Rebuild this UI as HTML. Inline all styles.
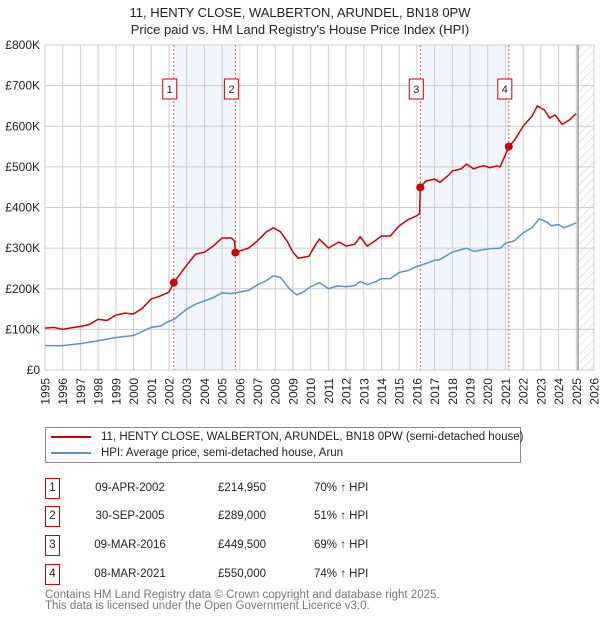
<!DOCTYPE html>
<html><head><meta charset="utf-8"><style>
body{margin:0;background:#fff;font-family:"Liberation Sans","DejaVu Sans",sans-serif;}
#wrap{position:relative;width:600px;height:620px;overflow:hidden}
</style></head><body><div id="wrap">
<svg id="chart" width="600" height="620" xmlns="http://www.w3.org/2000/svg" font-family="Liberation Sans, DejaVu Sans, sans-serif">
<defs><pattern id="hatch" width="6" height="6" patternUnits="userSpaceOnUse" patternTransform="rotate(45)"><line x1="0" y1="0" x2="0" y2="6" stroke="#ccc" stroke-width="1"/></pattern></defs>
<text x="300" y="17" text-anchor="middle" font-size="13" fill="#222">11, HENTY CLOSE, WALBERTON, ARUNDEL, BN18 0PW</text>
<text x="300" y="34" text-anchor="middle" font-size="13" fill="#222">Price paid vs. HM Land Registry's House Price Index (HPI)</text>
<g id="plot"></g>
</svg>
<div style="position:absolute;left:45px;top:427px;width:474px;height:34px;border:1px solid #888;font-size:11.5px;color:#222">
<div style="position:absolute;left:5px;top:3px;white-space:nowrap"><span style="display:inline-block;width:40px;height:2px;background:#cc0000;vertical-align:middle;margin-right:10px"></span>11, HENTY CLOSE, WALBERTON, ARUNDEL, BN18 0PW (semi-detached house)</div>
<div style="position:absolute;left:5px;top:19px;white-space:nowrap"><span style="display:inline-block;width:40px;height:2px;background:#5b8fd4;vertical-align:middle;margin-right:10px"></span>HPI: Average price, semi-detached house, Arun</div>
</div>
<div id="table"></div>
<div style="position:absolute;left:45px;top:590px;font-size:11.5px;color:#777;line-height:11px">Contains HM Land Registry data © Crown copyright and database right 2025.<br>This data is licensed under the Open Government Licence v3.0.</div>
</div>
<script>
const redYears=[1995,1995.5,1996,1996.5,1997,1997.5,1998,1998.5,1999,1999.5,2000,2000.5,2001,2001.5,2002,2002.27,2003,2003.5,2004,2004.5,2005,2005.5,2005.7,2005.75,2006,2006.5,2007,2007.5,2007.9,2008.3,2008.7,2009,2009.3,2009.9,2010.3,2010.5,2011,2011.6,2012,2012.5,2012.8,2013.2,2013.7,2014,2014.5,2015,2015.5,2016,2016.15,2016.19,2016.5,2017,2017.3,2017.8,2018,2018.5,2018.8,2019.2,2019.5,2019.8,2020.1,2020.5,2020.7,2021,2021.19,2021.5,2022,2022.5,2022.8,2023.2,2023.5,2023.8,2024.2,2024.6,2024.9,2025.0];
const redValues=[103,105,100,104,107,112,125,122,135,140,138,152,175,182,192,215,258,285,290,305,325,325,318,289,293,300,318,340,350,340,315,290,275,280,310,322,300,315,305,310,328,305,320,330,330,355,370,380,385,449.5,465,470,462,480,490,495,507,495,500,503,498,502,500,530,550,565,600,625,650,640,620,628,605,615,628,630];
const hpiYears=[1995,1996,1997,1998,1999,2000,2000.5,2001,2001.5,2002,2002.3,2003,2003.5,2004,2004.5,2005,2005.5,2006,2006.5,2007,2007.5,2007.9,2008.3,2008.8,2009.2,2009.5,2010,2010.5,2011,2011.5,2012,2012.5,2012.8,2013.2,2013.7,2014,2014.5,2015,2015.5,2016,2016.5,2017,2017.3,2017.8,2018,2018.8,2019.2,2020,2020.7,2021,2021.5,2022,2022.5,2022.9,2023.3,2023.6,2024,2024.3,2025];
const hpiValues=[60,60,65,72,80,85,95,105,108,120,125,150,162,170,178,190,188,192,196,210,220,232,228,200,185,190,205,215,200,207,205,208,218,210,218,225,225,240,245,255,262,270,272,285,290,300,292,298,300,312,318,338,350,372,365,355,358,350,362];
const saleYears=[2002.27,2005.75,2016.19,2021.19];
const saleValues=[214.95,289,449.5,550];
const saleLabels=["1","2","3","4"];
const saleDates=["09-APR-2002","30-SEP-2005","09-MAR-2016","08-MAR-2021"];
const salePrices=["£214,950","£289,000","£449,500","£550,000"];
const salePcts=["70% ↑ HPI","51% ↑ HPI","69% ↑ HPI","74% ↑ HPI"];
const yTicks=[0,100,200,300,400,500,600,700,800];
const yTickLabels=["£0","£100K","£200K","£300K","£400K","£500K","£600K","£700K","£800K"];
const xTicks=[1995,1996,1997,1998,1999,2000,2001,2002,2003,2004,2005,2006,2007,2008,2009,2010,2011,2012,2013,2014,2015,2016,2017,2018,2019,2020,2021,2022,2023,2024,2025,2026];
const dataEnd=2025.1;

const X0=45,X1=594,Y0=370,Y1=45;
const xs=y=>X0+(y-1995)/(2026-1995)*(X1-X0);
const ys=v=>Y0-v/800*(Y0-Y1);
const NS="http://www.w3.org/2000/svg";
const g=document.getElementById('plot');
function mk(tag,at){const e=document.createElementNS(NS,tag);for(const k in at)e.setAttribute(k,at[k]);g.appendChild(e);return e;}
for(let i=0;i<saleYears.length;i+=2){
 const r=mk('rect',{x:xs(saleYears[i]),y:Y1,width:xs(saleYears[i+1])-xs(saleYears[i]),height:Y0-Y1,fill:'#eef3fc',opacity:0.8});
 
 
}
const ht=mk('rect',{x:xs(dataEnd),y:Y1,width:X1-xs(dataEnd),height:Y0-Y1,fill:'url(#hatch)'});


yTicks.forEach((t,i)=>{
 const l=mk('line',{x1:X0,x2:X1,y1:ys(t),y2:ys(t),stroke:'#ccc','stroke-width':1});
 
 
 const tx=mk('text',{x:X0-5,y:ys(t)+4,'text-anchor':'end','font-size':12,fill:'#222'});
 tx.textContent=yTickLabels[i];
 
 
});
xTicks.forEach(t=>{
 const l=mk('line',{x1:xs(t),x2:xs(t),y1:Y1,y2:Y0,stroke:'#ccc','stroke-width':1});
 
 
 const px=xs(t)+4.5, py=Y0+8;
 const tx=mk('text',{x:px,y:py,'text-anchor':'end','font-size':12,fill:'#222',transform:'rotate(-90 '+px+' '+py+')'});
 tx.textContent=t;
 
 
});
const el=mk('line',{x1:xs(dataEnd),x2:xs(dataEnd),y1:Y1,y2:Y0,stroke:'#999','stroke-width':1.5});


saleYears.forEach((s,i)=>{
 const l=mk('line',{x1:xs(s),x2:xs(s),y1:Y1,y2:Y0,stroke:'#e05555','stroke-width':1,'stroke-dasharray':'2,2'});
 
 
 const b=mk('rect',{x:xs(s)-11,y:79,width:14,height:20,fill:'#fff',stroke:'#cc0000','stroke-width':1});
 
 
 const t=mk('text',{x:xs(s)-4,y:93,'text-anchor':'middle','font-size':11,fill:'#222'});
 t.textContent=saleLabels[i];
 
 
});
const hp=mk('polyline',{points:hpiYears.map((y,i)=>xs(y)+','+ys(hpiValues[i])).join(' '),fill:'none',stroke:'#5b8fd4','stroke-width':1.5});


const rp=mk('polyline',{points:redYears.map((y,i)=>xs(y)+','+ys(redValues[i])).join(' '),fill:'none',stroke:'#cc0000','stroke-width':1.5});


saleYears.forEach((s,i)=>{
 const c=mk('circle',{cx:xs(s),cy:ys(saleValues[i]),r:4,fill:'#cc0000'});
 
 
});
const tb=document.getElementById('table');
const rowY=[478,506,535,564];
saleLabels.forEach((lab,i)=>{
 const row=document.createElement('div');
 
 
 row.style.cssText='position:absolute;left:0;top:'+rowY[i]+'px;width:600px;height:20px;font-size:11.5px;color:#222';
 row.innerHTML='<div style="position:absolute;left:45px;top:0;width:13px;height:19px;border:1px solid #cc0000;text-align:center;line-height:19px">'+lab+'</div>'+
 '<div style="position:absolute;left:80px;width:100px;text-align:center;line-height:20px">'+saleDates[i]+'</div>'+
 '<div style="position:absolute;left:200px;width:66px;text-align:right;line-height:20px">'+salePrices[i]+'</div>'+
 '<div style="position:absolute;left:314px;line-height:20px;white-space:nowrap">'+salePcts[i]+'</div>';
 tb.appendChild(row);
});
</script>
</body></html>
